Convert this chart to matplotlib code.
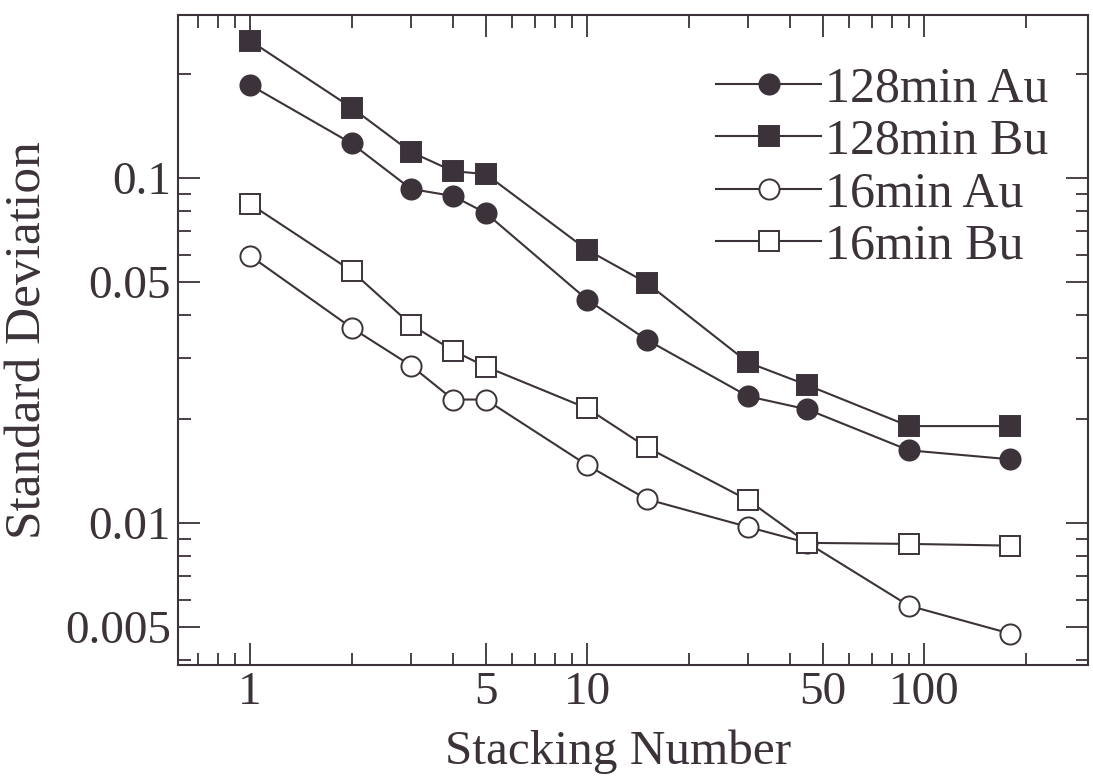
import matplotlib
matplotlib.use("Agg")
import matplotlib.pyplot as plt
from matplotlib.ticker import FixedLocator, NullFormatter, FixedFormatter

stacking = [1, 2, 3, 4, 5, 10, 15, 30, 45, 90, 180]
au128 = [0.186, 0.126, 0.093, 0.0887, 0.0792, 0.0444, 0.034, 0.0233, 0.02135, 0.01625, 0.0153]
bu128 = [0.25, 0.160, 0.119, 0.1047, 0.1027, 0.0619, 0.0497, 0.0292, 0.0251, 0.0191, 0.0191]
au16 = [0.0595, 0.0368, 0.0286, 0.0228, 0.0228, 0.01471, 0.01173, 0.00974, 0.00876, 0.00576, 0.00478]
bu16 = [0.0841, 0.0538, 0.0376, 0.0316, 0.0284, 0.0215, 0.0166, 0.01165, 0.00876, 0.0087, 0.0086]
labels = ["128min Au", "128min Bu", "16min Au", "16min Bu"]
xticks = [1, 5, 10, 50, 100]
xticklabels = ["1", "5", "10", "50", "100"]
yticks = [0.005, 0.01, 0.05, 0.1]
yticklabels = ["0.005", "0.01", "0.05", "0.1"]

plt.rcParams['font.family'] = ['Liberation Serif', 'DejaVu Serif']
ink = '#3b3339'

fig = plt.figure(figsize=(10.93, 7.84), dpi=100)
ax = fig.add_axes([0.1629, 0.1518, 0.8325, 0.8291])

styles = [
    dict(marker='o', mfc=ink),
    dict(marker='s', mfc=ink),
    dict(marker='o', mfc='white'),
    dict(marker='s', mfc='white'),
]
for ys, lab, st in zip([au128, bu128, au16, bu16], labels, styles):
    ax.plot(stacking, ys, color=ink, lw=1.5, ms=14.5, mec=ink, mew=1.4,
            label=lab, **st)

ax.set_xscale('log')
ax.set_yscale('log')
ax.set_xlim(0.611, 306)
ax.set_ylim(0.003877, 0.297)

ax.xaxis.set_major_locator(FixedLocator(xticks))
ax.xaxis.set_major_formatter(FixedFormatter(xticklabels))
xminor = [0.7, 0.8, 0.9, 2, 3, 4, 6, 7, 8, 9, 20, 30, 40, 60, 70, 80, 90, 200]
ax.xaxis.set_minor_locator(FixedLocator(xminor))
ax.xaxis.set_minor_formatter(NullFormatter())

ax.yaxis.set_major_locator(FixedLocator(yticks))
ax.yaxis.set_major_formatter(FixedFormatter(yticklabels))
yminor = [0.004, 0.006, 0.007, 0.008, 0.009, 0.02, 0.03, 0.04, 0.06, 0.07, 0.08, 0.09, 0.2]
ax.yaxis.set_minor_locator(FixedLocator(yminor))
ax.yaxis.set_minor_formatter(NullFormatter())

ax.tick_params(which='both', direction='in', top=True, right=True, colors=ink,
               labelsize=34, width=1.3)
ax.tick_params(which='major', length=16, pad=5)
ax.tick_params(which='minor', length=9)
for sp in ax.spines.values():
    sp.set_color(ink)
    sp.set_linewidth(1.5)

ax.set_xlabel('Stacking Number', fontsize=35.5, color=ink, labelpad=10)
ax.xaxis.set_label_coords(0.484, -0.099)
ax.set_ylabel('Standard Deviation', fontsize=37, color=ink, labelpad=10)

leg = ax.legend(loc='upper right', frameon=False, fontsize=36, handlelength=2.1,
                handletextpad=0.08, labelspacing=0.12, borderaxespad=0.0,
                labelcolor=ink, bbox_to_anchor=(0.979, 0.953))

fig.savefig('out.png', dpi=100, facecolor='white')
